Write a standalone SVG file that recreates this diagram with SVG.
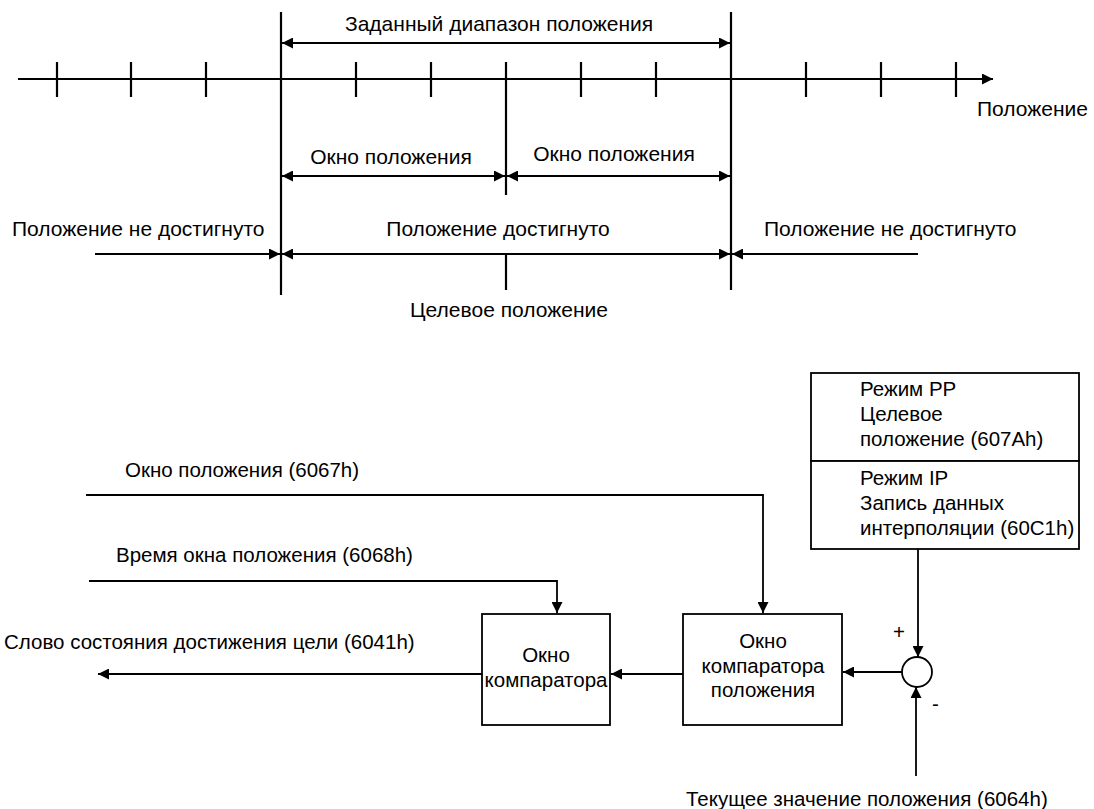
<svg xmlns="http://www.w3.org/2000/svg" width="1094" height="809" viewBox="0 0 1094 809">
<defs>
<marker id="ah" viewBox="0 0 10 10" refX="10" refY="5" markerWidth="11" markerHeight="11" markerUnits="userSpaceOnUse" orient="auto-start-reverse">
<path d="M0,0 L10,5 L0,10 z" fill="#000"/>
</marker>
<style>
.l{stroke:#000;stroke-width:2.2;fill:none}
.t{stroke:#000;stroke-width:1.8;fill:none}
.b{stroke:#000;stroke-width:1.8;fill:#fff}
text{font-family:"Liberation Sans",Arial,sans-serif;font-size:21px;fill:#000}
.s{font-size:20.5px}
.m{text-anchor:middle}
</style>
</defs>
<rect width="1094" height="809" fill="#fff"/>
<g id="top-scale">
<line class="l" x1="18" y1="79" x2="993" y2="79" marker-end="url(#ah)"/>
<path class="l" d="M57,62V97M131,62V97M206,62V97M356,62V97M431,62V97M581,62V97M656,62V97M806,62V97M881,62V97M956,62V97"/>
<line class="l" x1="281" y1="12" x2="281" y2="295"/>
<line class="l" x1="731" y1="12" x2="731" y2="290"/>
<line class="l" x1="506" y1="62" x2="506" y2="195"/>
<line class="l" x1="506" y1="255" x2="506" y2="290"/>
<text x="345" y="31">Заданный диапазон положения</text>
<text x="977" y="116">Положение</text>
<text class="m" x="391" y="164">Окно положения</text>
<text class="m" x="614" y="161">Окно положения</text>
<text x="12" y="236">Положение не достигнуто</text>
<text class="m" x="498" y="236">Положение достигнуто</text>
<text x="764" y="236">Положение не достигнуто</text>
<text class="m" x="509" y="317">Целевое положение</text>
</g>
<g id="connectors-top">
<line class="l" x1="282" y1="43" x2="730" y2="43" marker-start="url(#ah)" marker-end="url(#ah)"/>
<line class="l" x1="282" y1="176" x2="505" y2="176" marker-start="url(#ah)" marker-end="url(#ah)"/>
<line class="l" x1="507" y1="176" x2="730" y2="176" marker-start="url(#ah)" marker-end="url(#ah)"/>
<line class="l" x1="95" y1="254" x2="280" y2="254" marker-end="url(#ah)"/>
<line class="l" x1="282" y1="254" x2="730" y2="254" marker-start="url(#ah)" marker-end="url(#ah)"/>
<line class="l" x1="918" y1="254" x2="732" y2="254" marker-end="url(#ah)"/>
</g>
<g id="source-box">
<rect class="b" x="811" y="373" width="268" height="88"/>
<rect class="b" x="811" y="461" width="268" height="88"/>
<text class="s" x="860" y="396">Режим PP</text>
<text class="s" x="860" y="421">Целевое</text>
<text class="s" x="860" y="446">положение (607Ah)</text>
<text class="s" x="860" y="485">Режим IP</text>
<text class="s" x="860" y="510">Запись данных</text>
<text class="s" x="860" y="535">интерполяции (60C1h)</text>
</g>
<g id="sum">
<circle class="b" cx="917" cy="672" r="15"/>
<text class="s" x="893" y="639">+</text>
<text class="s" x="932" y="711">-</text>
</g>
<g id="comparator-position">
<rect class="b" x="683" y="614" width="159" height="111"/>
<text class="s m" x="763" y="648">Окно</text>
<text class="s m" x="763" y="673">компаратора</text>
<text class="s m" x="763" y="697">положения</text>
</g>
<g id="comparator">
<rect class="b" x="482" y="614" width="128" height="111"/>
<text class="s m" x="546" y="662">Окно</text>
<text class="s m" x="546" y="687">компаратора</text>
</g>
<g id="labels-bottom">
<text class="s" x="125" y="477">Окно положения (6067h)</text>
<text class="s" x="116" y="562">Время окна положения (6068h)</text>
<text class="s" x="4" y="649">Слово состояния достижения цели (6041h)</text>
<text class="s" x="686" y="806">Текущее значение положения (6064h)</text>
</g>
<g id="connectors">
<line class="t" x1="918" y1="549" x2="918" y2="657" marker-end="url(#ah)"/>
<line class="t" x1="916" y1="776" x2="916" y2="687" marker-end="url(#ah)"/>
<line class="t" x1="902" y1="672" x2="843" y2="672" marker-end="url(#ah)"/>
<line class="t" x1="683" y1="674" x2="611" y2="674" marker-end="url(#ah)"/>
<line class="t" x1="482" y1="674" x2="98" y2="674" marker-end="url(#ah)"/>
<polyline class="t" points="86,495 763,495 763,613" marker-end="url(#ah)"/>
<polyline class="t" points="89,581 557,581 557,613" marker-end="url(#ah)"/>
</g>
</svg>
